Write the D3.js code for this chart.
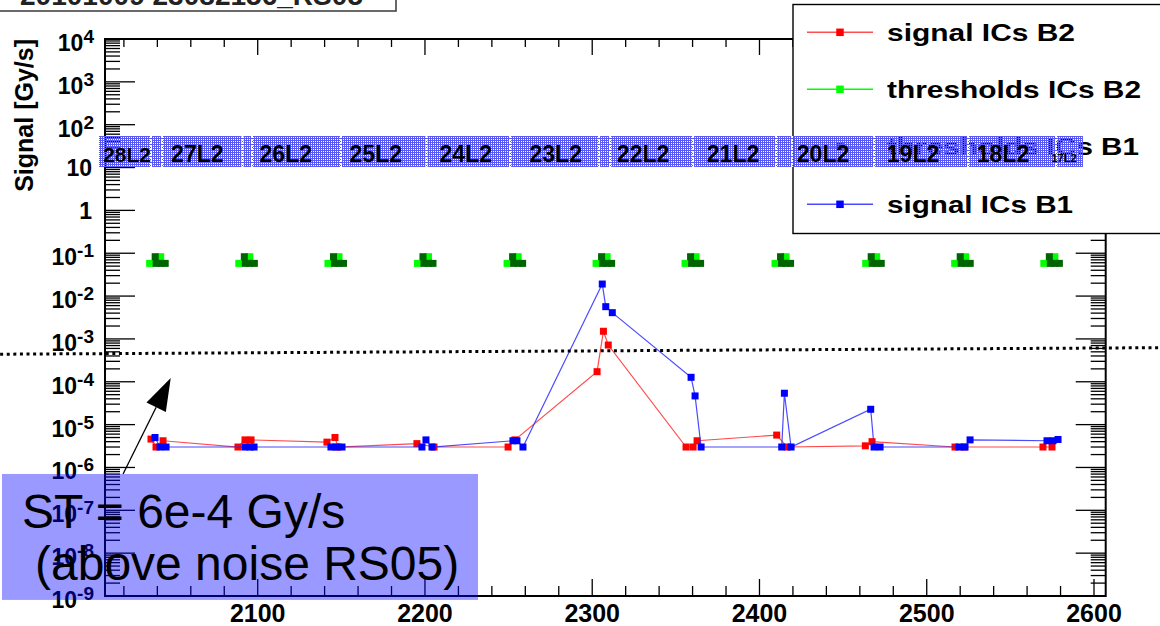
<!DOCTYPE html>
<html><head><meta charset="utf-8">
<script src="https://cdn.jsdelivr.net/npm/d3@7"></script>
<style>body{margin:0;background:#fff}svg{display:block}</style>
</head><body>
<svg id="c" width="1160" height="626"></svg>
<script>
// ---------------- data ----------------
const xDomain = [2008.7, 2607];
const yDomain = [1e-9, 1e4];
const xMajorTicks = [2100, 2200, 2300, 2400, 2500, 2600];
const yTickExp = [-9,-8,-7,-6,-5,-4,-3,-2,-1,0,1,2,3,4];

const sigB2X = [2036.2, 2039.2, 2043.4, 2088.2, 2092.4, 2096.0, 2141.4, 2146.2, 2148.0, 2195.2, 2205.4, 2249.7, 2253.8, 2302.9, 2306.7, 2309.6, 2356.1, 2360.3, 2362.7, 2410.3, 2416.5, 2463.3, 2467.3, 2516.9, 2522.3, 2569.5, 2574.9];
const sigB2Y = [4.6e-6, 3.0e-6, 4.2e-6, 3.0e-6, 4.4e-6, 4.4e-6, 3.9e-6, 5.0e-6, 3.0e-6, 3.6e-6, 3.0e-6, 3.0e-6, 4.4e-6, 1.72e-4, 1.51e-3, 7.2e-4, 3.0e-6, 3.0e-6, 4.2e-6, 5.7e-6, 3.0e-6, 3.2e-6, 4.0e-6, 3.0e-6, 3.0e-6, 3.0e-6, 3.0e-6];

const sigB1X = [2038.6, 2041.6, 2045.2, 2092.4, 2095.4, 2097.8, 2143.8, 2146.8, 2150.4, 2198.2, 2200.6, 2204.2, 2252.6, 2255.0, 2258.6, 2306.0, 2308.1, 2312.0, 2359.1, 2361.5, 2365.1, 2413.3, 2414.9, 2418.9, 2466.5, 2468.5, 2472.1, 2519.3, 2522.9, 2525.9, 2571.9, 2575.5, 2578.5];
const sigB1Y = [5.0e-6, 3.0e-6, 3.0e-6, 3.0e-6, 3.0e-6, 3.0e-6, 3.0e-6, 3.0e-6, 3.0e-6, 3.0e-6, 4.4e-6, 3.0e-6, 4.2e-6, 4.2e-6, 3.0e-6, 1.91e-2, 5.66e-3, 4.1e-3, 1.27e-4, 4.67e-5, 3.0e-6, 3.0e-6, 5.4e-5, 3.0e-6, 2.28e-5, 3.0e-6, 3.0e-6, 3.0e-6, 3.0e-6, 4.4e-6, 4.2e-6, 4.2e-6, 4.5e-6];

const thrB2X = [2035.4, 2042.0, 2088.7, 2095.3, 2142.0, 2148.6, 2195.5, 2202.1, 2249.1, 2255.7, 2302.3, 2308.9, 2355.5, 2362.1, 2409.3, 2415.9, 2463.5, 2470.1, 2516.7, 2523.3, 2570.0, 2576.6];
const thrB2Y = [0.058, 0.083, 0.058, 0.083, 0.058, 0.083, 0.058, 0.083, 0.058, 0.083, 0.058, 0.083, 0.058, 0.083, 0.058, 0.083, 0.058, 0.083, 0.058, 0.083, 0.058, 0.083];

const thrB1X = [2038.7, 2039.3, 2042.0, 2044.7, 2092.0, 2092.6, 2095.3, 2098.0, 2145.3, 2145.9, 2148.6, 2151.3, 2198.8, 2199.4, 2202.1, 2204.8, 2252.4, 2253.0, 2255.7, 2258.4, 2305.6, 2306.2, 2308.9, 2311.6, 2358.8, 2359.4, 2362.1, 2364.8, 2412.6, 2413.2, 2415.9, 2418.6, 2466.8, 2467.4, 2470.1, 2472.8, 2520.0, 2520.6, 2523.3, 2526.0, 2573.3, 2573.9, 2576.6, 2579.3];
const thrB1Y = [0.083, 0.058, 0.058, 0.058, 0.083, 0.058, 0.058, 0.058, 0.083, 0.058, 0.058, 0.058, 0.083, 0.058, 0.058, 0.058, 0.083, 0.058, 0.058, 0.058, 0.083, 0.058, 0.058, 0.058, 0.083, 0.058, 0.058, 0.058, 0.083, 0.058, 0.058, 0.058, 0.083, 0.058, 0.058, 0.058, 0.083, 0.058, 0.058, 0.058, 0.083, 0.058, 0.058, 0.058];

const bandLabels = ["28L2","27L2","26L2","25L2","24L2","23L2","22L2","21L2","20L2","19L2","18L2","17L2"];
const bandLabelX = [2021.9, 2063.9, 2116.8, 2170.6, 2224.4, 2278.2, 2330.4, 2384.2, 2438.0, 2491.8, 2545.6, 2582.1];
const bandRange = [2005.1, 2593.4];
const bandYRange = [10.3, 54.5];
const bandBounds = [2036.2, 2042.8, 2090.9, 2096.6, 2149.8, 2200.9, 2250.9, 2304.1, 2310.7, 2360.3, 2409.9, 2419.5, 2468.5, 2524.7, 2577.3];

const seriesNames = ["signal ICs B2", "thresholds ICs B2", "thresholds ICs B1", "signal ICs B1"];
const stLineX = [1946, 2639.5];
const stLineY = [4.4e-4, 6.25e-4];
const arrowX = [2019.5, 2048.0];
const arrowY = [7.05e-7, 1.23e-4];
const boxX = [1947.1, 2231.7];
const boxY = [7.05e-7, 8.1e-10];
const noteLines = ["ST = 6e-4 Gy/s", "(above noise RS05)"];
const titleText = "20101009 23082156_RS05";

// ---------------- scales ----------------
const L = 105, R = 1105.7, T = 39, B = 596;
const x = d3.scaleLinear().domain(xDomain).range([L, R]);
const y = d3.scaleLog().domain(yDomain).range([B, T]);
const svg = d3.select('#c');
const FONT = "'Liberation Sans', Arial, Helvetica, sans-serif";

const defs = svg.append('defs');
const pat = defs.append('pattern').attr('id','chk').attr('width',2).attr('height',2).attr('patternUnits','userSpaceOnUse');
pat.append('rect').attr('x',0).attr('y',0).attr('width',2).attr('height',1).attr('fill','#5858f4');
pat.append('rect').attr('x',0).attr('y',1).attr('width',1).attr('height',1).attr('fill','#5858f4');

svg.append('rect').attr('width',1160).attr('height',626).attr('fill','#fff');

// ---------------- axes ticks ----------------
const ax = svg.append('g').attr('stroke','#000').attr('stroke-width',1.3);
for (let e = -9; e < 4; e++) {
  for (let m = 1; m <= 9; m++) {
    const v = m * Math.pow(10, e);
    const len = m === 1 ? 30 : 15;
    const yy = y(v);
    ax.append('line').attr('x1',L).attr('x2',L+len).attr('y1',yy).attr('y2',yy);
    ax.append('line').attr('x1',R).attr('x2',R-len).attr('y1',yy).attr('y2',yy);
  }
}
ax.append('line').attr('x1',L).attr('x2',L+30).attr('y1',y(1e4)).attr('y2',y(1e4));
const minorX = d3.range(2020, 2601, 20);
minorX.forEach(v => {
  const major = v % 100 === 0;
  const xx = x(v);
  ax.append('line').attr('x1',xx).attr('x2',xx).attr('y1',B).attr('y2',B-(major?17:10));
  ax.append('line').attr('x1',xx).attr('x2',xx).attr('y1',T).attr('y2',T+(major?16:8));
});

// frame
svg.append('rect').attr('x',L).attr('y',T).attr('width',R-L).attr('height',B-T)
  .attr('fill','none').attr('stroke','#000').attr('stroke-width',2);

// tick labels
const xl = svg.append('g').attr('font-family',FONT).attr('font-weight','bold').attr('font-size',25).attr('text-anchor','middle');
xMajorTicks.forEach(v => xl.append('text').attr('x',x(v)).attr('y',621.5).text(v));

const yl = svg.append('g').attr('font-family',FONT).attr('font-weight','bold').attr('text-anchor','end');
yTickExp.forEach(e => {
  const yy = y(Math.pow(10, e));
  if (e === 0 || e === 1) {
    yl.append('text').attr('x',92).attr('y',yy+8.5).attr('font-size',23).text(e === 0 ? '1' : '10');
  } else {
    const t = yl.append('text').attr('x',94).attr('y',yy+12).attr('font-size',23);
    t.append('tspan').text('10');
    t.append('tspan').attr('font-size',19).attr('dy',-8).text(String(e).replace('-','-'));
  }
});
svg.append('text').attr('transform','translate(33,39) rotate(-90)').attr('text-anchor','end')
  .attr('font-family',FONT).attr('font-weight','bold').attr('font-size',25).text('Signal [Gy/s]');

// ---------------- series ----------------
const line = d3.line().x(d => x(d[0])).y(d => y(d[1]));
const MS = 7;
function markers(xs, ys, color) {
  const g = svg.append('g').attr('fill', color);
  xs.forEach((v, i) => g.append('rect').attr('x', x(v)-MS/2).attr('y', y(ys[i])-MS/2).attr('width',MS).attr('height',MS));
}
const b2 = sigB2X.map((v,i)=>[v, sigB2Y[i]]);
svg.append('path').attr('d', line(b2)).attr('fill','none').attr('stroke','#ff2a2a').attr('stroke-width',1.2).attr('opacity',0.85);
markers(sigB2X, sigB2Y, '#ff0000');
markers(thrB2X, thrB2Y, '#00ff00');
markers(thrB1X, thrB1Y, '#006400');
const b1 = sigB1X.map((v,i)=>[v, sigB1Y[i]]);
svg.append('path').attr('d', line(b1)).attr('fill','none').attr('stroke','#2a2aff').attr('stroke-width',1.2).attr('opacity',0.85);
markers(sigB1X, sigB1Y, '#0000ff');

// ST threshold line
svg.append('line').attr('x1',x(stLineX[0])).attr('y1',y(stLineY[0])).attr('x2',x(stLineX[1])).attr('y2',y(stLineY[1]))
  .attr('stroke','#000').attr('stroke-width',3).attr('stroke-dasharray','3,3.6');

// ---------------- legend ----------------
const lg = svg.append('g');
lg.append('rect').attr('x',793).attr('y',4.5).attr('width',420).attr('height',229).attr('fill','#fff').attr('stroke','#000').attr('stroke-width',1.4);
const lgY = [32.3, 89.3, 146.7, 204.3];
const lgLine = ['#ff5050', '#00ff00', '#006400', '#4a4aff'];
const lgMark = ['#ff0000', '#00ff00', '#006400', '#0000ff'];
const lgLen = [188, 254, 252, 186];
seriesNames.forEach((n, i) => {
  lg.append('line').attr('x1',807).attr('x2',873).attr('y1',lgY[i]).attr('y2',lgY[i]).attr('stroke',lgLine[i]).attr('stroke-width',1.5);
  lg.append('rect').attr('x',840-3.75).attr('y',lgY[i]-3.75).attr('width',7.5).attr('height',7.5).attr('fill',lgMark[i]);
  lg.append('text').attr('x',887).attr('y',lgY[i]+8.5).attr('font-family',FONT).attr('font-weight','bold').attr('font-size',24)
    .attr('textLength',lgLen[i]).attr('lengthAdjust','spacingAndGlyphs').text(n);
});

// ---------------- sector band ----------------
const bg = svg.append('g');
bg.append('rect').attr('x',x(bandRange[0])).attr('y',y(bandYRange[1]))
  .attr('width',x(bandRange[1])-x(bandRange[0])).attr('height',y(bandYRange[0])-y(bandYRange[1]))
  .attr('fill','url(#chk)');
bandBounds.forEach(v => bg.append('line').attr('x1',x(v)).attr('x2',x(v)).attr('y1',y(bandYRange[1])).attr('y2',y(bandYRange[0]))
  .attr('stroke','#fff').attr('stroke-width',2).attr('stroke-dasharray','2,1'));
bandLabels.forEach((t, i) => {
  const fs = i === 0 ? 21 : (i === bandLabels.length-1 ? 11 : 23);
  bg.append('text').attr('x',x(bandLabelX[i])).attr('y',161.5).attr('text-anchor','middle')
    .attr('font-family',FONT).attr('font-weight','bold').attr('font-size',fs).attr('fill','#000').text(t);
});

// ---------------- title box ----------------
svg.append('rect').attr('x',-2).attr('y',-30).attr('width',398).attr('height',41).attr('fill','#fff').attr('stroke','#444').attr('stroke-width',1.6);
svg.append('text').attr('x',20).attr('y',5).attr('font-family',FONT).attr('font-weight','bold').attr('font-size',27)
  .attr('fill','#222').attr('textLength',343).attr('lengthAdjust','spacingAndGlyphs').text(titleText);

// ---------------- annotation ----------------
const ax0 = x(arrowX[0]), ay0 = y(arrowY[0]), ax1 = x(arrowX[1]), ay1 = y(arrowY[1]);
const dx = ax1-ax0, dy = ay1-ay0, dl = Math.hypot(dx,dy), ux = dx/dl, uy = dy/dl;
const hl = 32.8, hw = 10.8;
const bx = ax1-ux*hl, by = ay1-uy*hl;
svg.append('line').attr('x1',ax0).attr('y1',ay0).attr('x2',bx).attr('y2',by).attr('stroke','#000').attr('stroke-width',1.3);
svg.append('path').attr('d',`M${ax1},${ay1}L${bx-uy*hw},${by+ux*hw}L${bx+uy*hw},${by-ux*hw}Z`).attr('fill','#000');

svg.append('rect').attr('x',x(boxX[0])).attr('y',y(boxY[0])).attr('width',x(boxX[1])-x(boxX[0])).attr('height',y(boxY[1])-y(boxY[0]))
  .attr('fill','rgba(0,0,255,0.4)');
svg.append('text').attr('x',22).attr('y',528).attr('font-family',FONT).attr('font-size',48).attr('fill','#000').text(noteLines[0]);
svg.append('text').attr('x',35).attr('y',580).attr('font-family',FONT).attr('font-size',48).attr('fill','#000').text(noteLines[1]);
</script>
</body></html>
